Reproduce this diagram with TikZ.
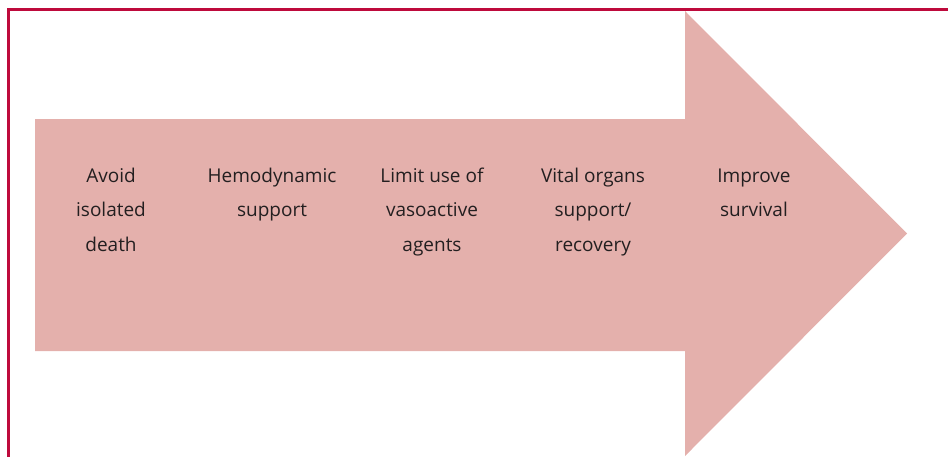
\documentclass[tikz,border=0pt]{standalone}
\usepackage{fontspec}
\setmainfont{Open Sans}
\definecolor{arrowfill}{HTML}{E4B0AC}
\definecolor{framered}{HTML}{BE0A3C}
\definecolor{labeltext}{HTML}{231F20}

\begin{document}
\begin{tikzpicture}[x=1pt,y=-1pt,
  steplabel/.style={align=center, font=\fontsize{19}{34.5}\selectfont,
    text=labeltext, inner sep=0pt, anchor=base},
  frameline/.style={draw=framered, line width=3pt}]
\useasboundingbox (0,0) rectangle (948,456);

% big block arrow
\fill[arrowfill] (35,119) -- (685,119) -- (685,11) -- (907,233.5)
  -- (685,456) -- (685,351) -- (35,351) -- cycle;

% frame on the top and left sides
\coordinate (fbl) at (8.5,470);
\coordinate (ftl) at (8.5,9.5);
\coordinate (ftr) at (960,9.5);
\draw[frameline] (fbl) -- (ftl) -- (ftr);

% step labels (anchored at the baseline of their last line)
\node[steplabel] (s1) at (111,251) {Avoid\\isolated\\death};
\node[steplabel] (s2) at (272,216.5) {Hemodynamic\\support};
\node[steplabel] (s3) at (432,251) {Limit use of\\vasoactive\\agents};
\node[steplabel] (s4) at (593,251) {Vital organs\\support/\\recovery};
\node[steplabel] (s5) at (754,216.5) {Improve\\survival};
\end{tikzpicture}
\end{document}
